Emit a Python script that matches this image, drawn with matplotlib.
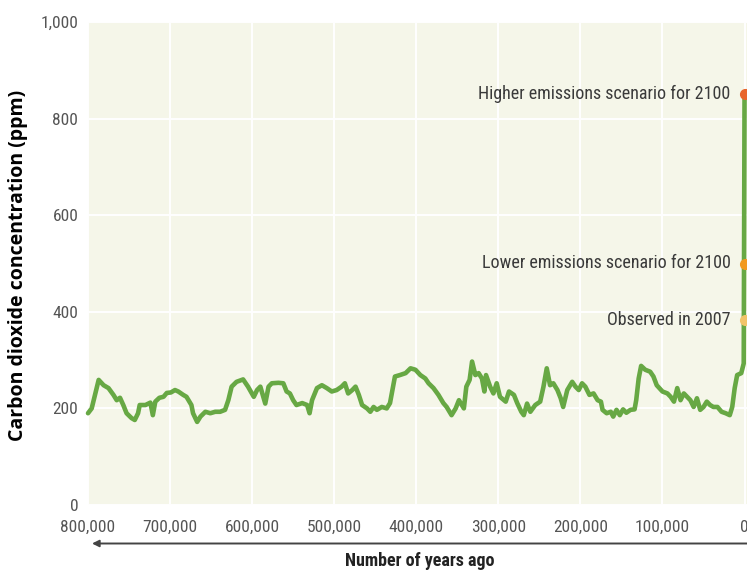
import matplotlib
matplotlib.use("Agg")
import matplotlib.pyplot as plt
from matplotlib import font_manager as fm
from matplotlib.ticker import FuncFormatter

# ---------------- data ----------------
years_ago = [800000, 795500, 792000, 787000, 781000, 775000, 769000, 765000, 761000, 757000,
             753000, 747000, 743000, 739000, 737000, 730000, 724000, 721000, 718000, 713000,
             708000, 704000, 699000, 694000, 690000, 684000, 680000, 674000, 672000, 667000,
             663000, 657000, 651000, 645000, 639000, 633000, 629000, 625000, 619000, 611000,
             605000, 598000, 594000, 590000, 584000, 580000, 576000, 568000, 562000, 558000,
             554000, 550000, 546000, 539000, 533000, 530000, 527000, 521000, 515000, 509000,
             503000, 497000, 491000, 487000, 483000, 478000, 474000, 470000, 466000, 460000,
             456000, 452000, 448000, 442000, 436000, 432000, 429000, 426000, 420000, 413000,
             407000, 401000, 395000, 389000, 385000, 379000, 373000, 367000, 363000, 357000,
             352000, 348000, 342000, 339000, 335000, 332000, 328000, 324000, 320000, 317000,
             315000, 310000, 306000, 302000, 298000, 291000, 287000, 281000, 277000, 272000,
             269000, 265000, 261000, 255000, 249000, 245000, 241000, 237000, 233000, 228000,
             224000, 221000, 216000, 210000, 206000, 202000, 198000, 194000, 189000, 184000,
             179000, 175000, 173000, 168000, 163000, 160000, 156000, 152000, 148000, 144000,
             139000, 134000, 132000, 129000, 126000, 121000, 115000, 111000, 107000, 100000,
             94000, 90000, 86000, 82000, 78000, 74000, 70000, 66000, 62000, 58000,
             54000, 50000, 46000, 42000, 38000, 33000, 28000, 23000, 18000, 15000,
             12000, 9000, 4000, 1000, 0]
co2_ppm = [190, 200, 224, 259, 248, 242, 228, 217, 222, 207,
           190, 180, 176, 190, 207, 207, 212, 186, 214, 222,
           224, 232, 233, 238, 235, 228, 224, 207, 190, 172,
           183, 193, 190, 193, 193, 197, 217, 245, 255, 260,
           245, 224, 238, 245, 210, 245, 252, 253, 252, 235,
           231, 217, 207, 211, 207, 190, 217, 242, 248, 242,
           235, 238, 245, 252, 231, 238, 245, 228, 207, 200,
           193, 203, 197, 203, 200, 211, 238, 266, 269, 273,
           283, 280, 269, 262, 252, 242, 228, 211, 203, 186,
           200, 217, 200, 245, 259, 297, 269, 273, 262, 235,
           269, 245, 231, 252, 224, 214, 235, 228, 211, 193,
           186, 210, 193, 207, 214, 245, 283, 248, 252, 238,
           221, 203, 238, 255, 245, 238, 252, 245, 228, 231,
           217, 214, 197, 190, 193, 183, 197, 186, 198, 191,
           197, 198, 217, 262, 288, 280, 276, 266, 248, 235,
           231, 224, 214, 242, 217, 231, 224, 217, 203, 221,
           197, 203, 214, 207, 203, 203, 193, 190, 186, 203,
           242, 269, 273, 293, 850]

marker_labels = ["Higher emissions scenario for 2100",
                 "Lower emissions scenario for 2100",
                 "Observed in 2007"]
marker_ppm = [850, 500, 383]
marker_year = [0, 0, 0]
marker_colors = ["#E8642A", "#F29A1F", "#F2C46A"]

x_ticks = [800000, 700000, 600000, 500000, 400000, 300000, 200000, 100000, 0]
y_ticks = [0, 200, 400, 600, 800, 1000]

# ---------------- fonts ----------------
fonts = fm.fontManager.ttflist
names = {f.name for f in fonts}
narrow_font = None
narrow_stretch = "normal"
narrow_scale = 1.0
for cand in ["Liberation Sans Narrow", "Roboto Condensed", "Open Sans Condensed",
             "Arial Narrow", "Noto Sans Condensed", "DejaVu Sans Condensed"]:
    if cand in names:
        narrow_font = cand
        break
if narrow_font is None:
    for fam in ["DejaVu Sans", "Noto Sans", "Roboto", "Open Sans", "Liberation Sans"]:
        if any(f.name == fam and str(f.stretch) in ("condensed", "semi-condensed", "75", "87.5",
                                                    "extra-condensed") for f in fonts):
            narrow_font = fam
            narrow_stretch = "condensed"
            break
if narrow_font is None:
    narrow_font = "Liberation Sans"
    narrow_scale = 0.86

bold_sans = "Open Sans" if "Open Sans" in names else "DejaVu Sans"

W, H = 747, 570
fig = plt.figure(figsize=(W / 100, H / 100), dpi=100)
fig.patch.set_facecolor("white")
ax = fig.add_axes([88 / W, (H - 505) / H, (W - 88) / W, (505 - 22) / H])
ax.set_facecolor("#F5F6E9")
for s in ax.spines.values():
    s.set_visible(False)

ax.set_xlim(800000, -3000)
ax.set_ylim(0, 1000)
ax.set_xticks(x_ticks)
ax.set_yticks(y_ticks)
ax.xaxis.set_major_formatter(FuncFormatter(lambda v, p: f"{int(v):,}"))
ax.yaxis.set_major_formatter(FuncFormatter(lambda v, p: f"{int(v):,}"))
tick_fs = 12.5 * narrow_scale
ax.tick_params(axis="both", length=0, colors="#555555", labelsize=tick_fs)
ax.tick_params(axis="x", pad=11)
ax.tick_params(axis="y", pad=7)
for lab in ax.get_xticklabels() + ax.get_yticklabels():
    lab.set_fontfamily(narrow_font)
    lab.set_fontstretch(narrow_stretch)
ax.grid(True, color="white", linewidth=1.4)
ax.set_axisbelow(True)

ax.plot(years_ago, co2_ppm, color="#67A844", linewidth=3.3, solid_joinstyle="round",
        solid_capstyle="round", zorder=3, clip_on=False)

for lbl, yv, xv, c in zip(marker_labels, marker_ppm, marker_year, marker_colors):
    ax.plot([xv], [yv], "o", color=c, markersize=7, zorder=4, clip_on=False)
    ax.annotate(lbl, xy=(xv, yv), xytext=(-14, 0), textcoords="offset pixels",
                ha="right", va="center", fontsize=13 * narrow_scale, color="#3A3A3A",
                fontfamily=narrow_font, fontstretch=narrow_stretch, zorder=5)

fig.text(18 / W, 1 - 265 / H, "Carbon dioxide concentration (ppm)", rotation=90,
         ha="center", va="center", fontsize=14, fontweight="bold",
         fontfamily=bold_sans, fontstretch="normal", color="black")

fig.text(420 / W, 1 - 561 / H, "Number of years ago", ha="center", va="center",
         fontsize=13 * narrow_scale, fontweight="bold", fontfamily=narrow_font,
         fontstretch=narrow_stretch, color="#222222")

# arrow pointing to the past
ax.annotate("", xy=(92 / W, 1 - 543.5 / H), xycoords="figure fraction",
            xytext=(W / W, 1 - 543.5 / H), textcoords="figure fraction",
            arrowprops=dict(arrowstyle="-|>", color="#444444", lw=1.4,
                            mutation_scale=10, shrinkA=0, shrinkB=0))

fig.savefig("out.png", dpi=100)
